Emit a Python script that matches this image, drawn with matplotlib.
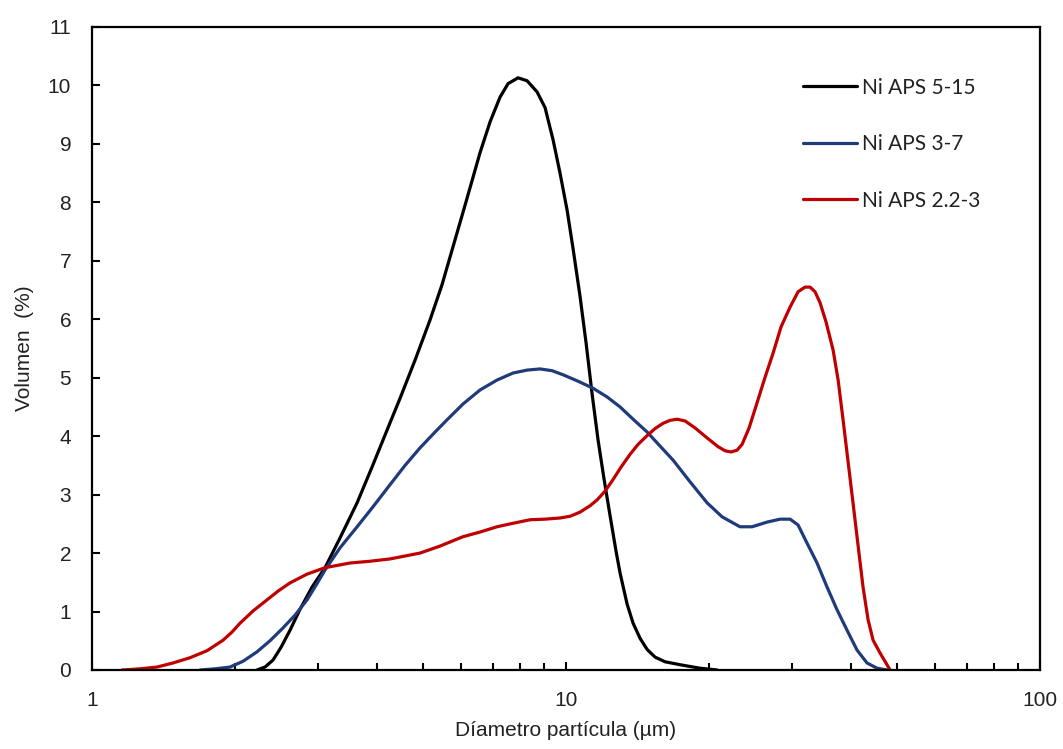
import matplotlib
matplotlib.use("Agg")
import matplotlib.pyplot as plt
from matplotlib.ticker import LogLocator, NullFormatter, FixedLocator, FixedFormatter

# Particle size distributions (volume %) vs particle diameter (µm)
x_5_15 = [2.228, 2.317, 2.409, 2.505, 2.616, 2.747, 2.912, 3.101, 3.336, 3.624,
          3.896, 4.253, 4.466, 4.802, 5.166, 5.474, 5.775, 6.152, 6.585, 6.916,
          7.257, 7.545, 7.920, 8.274, 8.686, 9.031, 9.389, 9.712, 10.05, 10.35,
          10.70, 11.02, 11.35, 11.68, 12.03, 12.39, 12.75, 13.00, 13.45, 13.85,
          14.33, 14.83, 15.41, 16.18, 17.40, 19.17, 20.83]
y_5_15 = [0.0, 0.05, 0.17, 0.39, 0.68, 1.04, 1.42, 1.75, 2.26, 2.86,
          3.47, 4.23, 4.65, 5.30, 5.99, 6.59, 7.24, 8.01, 8.85, 9.38,
          9.80, 10.03, 10.13, 10.08, 9.89, 9.62, 9.07, 8.50, 7.87, 7.20,
          6.40, 5.60, 4.72, 3.94, 3.26, 2.63, 2.03, 1.66, 1.13, 0.80,
          0.54, 0.35, 0.22, 0.14, 0.09, 0.03, 0.0]

x_3_7 = [1.690, 1.818, 1.955, 2.083, 2.228, 2.374, 2.529, 2.682, 2.842, 2.969,
         3.101, 3.336, 3.624, 3.896, 4.253, 4.575, 4.920, 5.292, 5.610, 6.062,
         6.585, 7.152, 7.730, 8.274, 8.813, 9.343, 9.856, 10.60, 11.40, 12.21,
         13.00, 13.85, 14.83, 15.79, 16.82, 18.26, 19.84, 21.34, 23.28, 24.69,
         26.56, 28.29, 29.70, 30.87, 32.24, 33.85, 35.53, 37.30, 39.16, 41.11,
         43.15, 45.30, 47.56]
y_3_7 = [0.0, 0.02, 0.05, 0.15, 0.31, 0.50, 0.72, 0.94, 1.20, 1.45,
         1.71, 2.09, 2.45, 2.77, 3.17, 3.50, 3.80, 4.07, 4.28, 4.55,
         4.79, 4.96, 5.08, 5.13, 5.15, 5.12, 5.05, 4.94, 4.82, 4.67,
         4.50, 4.29, 4.07, 3.83, 3.59, 3.22, 2.86, 2.62, 2.45, 2.45,
         2.53, 2.58, 2.58, 2.48, 2.17, 1.83, 1.42, 1.03, 0.68, 0.34,
         0.12, 0.03, 0.0]

x_2_3 = [1.157, 1.263, 1.371, 1.482, 1.610, 1.748, 1.890, 1.974, 2.052, 2.186,
         2.340, 2.469, 2.616, 2.842, 3.101, 3.502, 3.859, 4.253, 4.575, 4.920,
         5.423, 6.062, 6.585, 7.152, 7.730, 8.397, 9.031, 9.712, 10.20, 10.70,
         11.24, 11.63, 12.09, 12.57, 13.06, 13.65, 14.19, 14.83, 15.41, 16.02,
         16.57, 17.15, 17.83, 18.72, 19.84, 20.93, 21.65, 22.29, 22.95, 23.52,
         24.33, 25.29, 26.30, 27.34, 28.42, 29.70, 30.87, 31.93, 32.72, 33.52,
         34.36, 35.37, 36.60, 37.50, 38.41, 39.36, 40.31, 41.30, 42.32, 43.37,
         44.44, 45.97, 48.27]
y_2_3 = [0.0, 0.02, 0.05, 0.12, 0.21, 0.33, 0.51, 0.65, 0.80, 1.01,
         1.20, 1.35, 1.49, 1.64, 1.75, 1.83, 1.86, 1.90, 1.95, 2.00,
         2.12, 2.28, 2.36, 2.45, 2.51, 2.57, 2.58, 2.60, 2.63, 2.70,
         2.81, 2.91, 3.06, 3.26, 3.47, 3.69, 3.86, 4.01, 4.13, 4.22,
         4.27, 4.29, 4.26, 4.14, 3.97, 3.82, 3.75, 3.73, 3.76, 3.86,
         4.14, 4.57, 5.01, 5.42, 5.87, 6.21, 6.47, 6.55, 6.55, 6.47,
         6.28, 5.95, 5.47, 4.96, 4.28, 3.56, 2.86, 2.14, 1.42, 0.86,
         0.51, 0.29, 0.0]

labels = ["Ni APS 5-15", "Ni APS 3-7", "Ni APS 2.2-3"]
colors = ["#000000", "#1F3B7B", "#C00000"]

y_ticks = list(range(0, 12))
x_ticks = [1, 10, 100]
x_tick_labels = ["1", "10", "100"]

fig = plt.figure(figsize=(10.63, 7.49), dpi=100)
ax = fig.add_axes([0.0866, 0.1055, 0.8918, 0.8585])

for xs, ys, lab, col in zip([x_5_15, x_3_7, x_2_3], [y_5_15, y_3_7, y_2_3], labels, colors):
    ax.plot(xs, ys, color=col, lw=2.3, label=lab, solid_joinstyle="round",
            solid_capstyle="round")

ax.set_xscale("log")
ax.set_xlim(1, 100)
ax.set_ylim(0, 11)

ax.xaxis.set_major_locator(FixedLocator(x_ticks))
ax.xaxis.set_major_formatter(FixedFormatter(x_tick_labels))
ax.xaxis.set_minor_locator(LogLocator(base=10, subs=range(2, 10)))
ax.xaxis.set_minor_formatter(NullFormatter())
ax.set_yticks(y_ticks)

for lbl in ax.get_xticklabels() + ax.get_yticklabels():
    lbl.set_fontfamily("Liberation Sans")
    lbl.set_fontsize(15)
    lbl.set_color("#222222")

ax.tick_params(axis="both", which="major", direction="in", length=6, width=1.5,
               pad=15, color="black")
ax.tick_params(axis="x", which="minor", direction="in", length=5, width=1.5, color="black")
ax.tick_params(top=False, right=False)

for sp in ax.spines.values():
    sp.set_linewidth(1.6)
    sp.set_color("black")

ax.set_xlabel("Díametro partícula (µm)", fontfamily="Liberation Sans", fontsize=15,
              color="#222222", labelpad=8)
ax.set_ylabel("Volumen  (%)", fontfamily="Liberation Sans", fontsize=15,
              color="#222222", labelpad=10)

leg = ax.legend(loc="upper left", bbox_to_anchor=(0.750, 0.921), frameon=False,
                prop=dict(family="Lato", size=15), handlelength=2.6,
                handletextpad=0.25, labelspacing=1.75, borderpad=0, borderaxespad=0)
for t in leg.get_texts():
    t.set_color("#222222")

fig.savefig("out.png", dpi=100, facecolor="white")
